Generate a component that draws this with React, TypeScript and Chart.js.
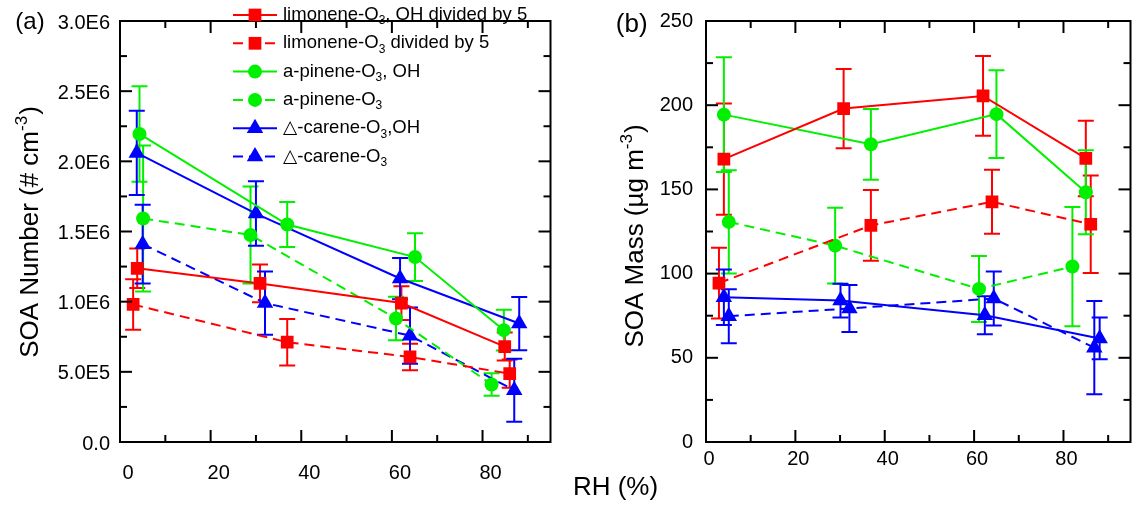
import React, { useEffect, useRef } from 'react';
import { Chart, registerables } from 'chart.js';

Chart.register(...registerables);

const FONT = '"Liberation Sans", Arial, "DejaVu Sans", sans-serif';
const RED = '#FF0000';
const GREEN = '#00F000';
const BLUE = '#0000FF';

// ---------- Panel (a): SOA number ----------
const rhLimOH_A = [3.8, 30.9, 62.1, 84.9];
const numLimOH_A = [1.238e6, 1.13e6, 0.99e6, 0.68e6];
const errLimOH_A = [0.14e6, 0.135e6, 0.12e6, 0.1e6];

const rhLimO3_A = [2.9, 36.9, 64.0, 86.0];
const numLimO3_A = [0.98e6, 0.711e6, 0.606e6, 0.487e6];
const errLimO3_A = [0.18e6, 0.165e6, 0.095e6, 0.1e6];

const rhPinOH_A = [4.3, 36.9, 65.1, 84.7];
const numPinOH_A = [2.195e6, 1.55e6, 1.318e6, 0.797e6];
const errPinOH_A = [0.34e6, 0.16e6, 0.17e6, 0.145e6];

const rhPinO3_A = [5.1, 28.8, 60.9, 82.0];
const numPinO3_A = [1.593e6, 1.475e6, 0.88e6, 0.41e6];
const errPinO3_A = [0.52e6, 0.345e6, 0.155e6, 0.08e6];

const rhCarOH_A = [3.7, 30.0, 61.8, 88.1];
const numCarOH_A = [2.06e6, 1.628e6, 1.165e6, 0.844e6];
const errCarOH_A = [0.3e6, 0.23e6, 0.147e6, 0.19e6];

const rhCarO3_A = [5.0, 32.0, 64.0, 87.0];
const numCarO3_A = [1.41e6, 0.99e6, 0.758e6, 0.369e6];
const errCarO3_A = [0.28e6, 0.225e6, 0.2e6, 0.225e6];

// ---------- Panel (b): SOA mass ----------
const rhLimOH_B = [4.0, 30.8, 62.0, 85.0];
const massLimOH_B = [168, 198, 205.5, 168.4];
const errLimOH_B = [33, 23.5, 23.7, 22.4];

const rhLimO3_B = [2.9, 36.9, 64.0, 86.1];
const massLimO3_B = [94.4, 128.6, 142.6, 129.3];
const errLimO3_B = [21, 21, 19, 29];

const rhPinOH_B = [4.0, 36.9, 65.0, 85.0];
const massPinOH_B = [194.4, 176.8, 194.7, 148.3];
const errPinOH_B = [34, 21, 26, 25];

const rhPinO3_B = [5.1, 28.9, 61.1, 82.0];
const massPinO3_B = [130.7, 116.6, 90.9, 104.2];
const errPinO3_B = [30.7, 22.5, 19.6, 35.4];

const rhCarOH_B = [4.0, 30.1, 62.4, 88.1];
const massCarOH_B = [86, 84, 75.3, 61.5];
const errCarOH_B = [16.5, 10, 11.3, 12.4];

const rhCarO3_B = [5.1, 32.1, 64.4, 86.9];
const massCarO3_B = [74.7, 79.3, 85.2, 56];
const errCarO3_B = [16, 14, 16, 27.7];

// ---------- Ticks ----------
const xTickValues = [0, 20, 40, 60, 80];
const xTickLabels = ['0', '20', '40', '60', '80'];
const xMinorValues = [10, 30, 50, 70, 90];

const yTickValuesA = [0, 5e5, 1e6, 1.5e6, 2e6, 2.5e6, 3e6];
const yTickLabelsA = ['0.0', '5.0E5', '1.0E6', '1.5E6', '2.0E6', '2.5E6', '3.0E6'];
const yMinorA = [2.5e5, 7.5e5, 1.25e6, 1.75e6, 2.25e6, 2.75e6];

const yTickValuesB = [0, 50, 100, 150, 200, 250];
const yTickLabelsB = ['0', '50', '100', '150', '200', '250'];
const yMinorB = [25, 75, 125, 175, 225];

// ---------- Series styling / legend ----------
const legendParts = [
  ['limonene-O', '3', ', OH divided by 5'],
  ['limonene-O', '3', ' divided by 5'],
  ['a-pinene-O', '3', ', OH'],
  ['a-pinene-O', '3', ''],
  ['\u25B3-carene-O', '3', ',OH'],
  ['\u25B3-carene-O', '3', ''],
];
const seriesColors = [RED, RED, GREEN, GREEN, BLUE, BLUE];
const seriesDashed = [false, true, false, true, false, true];
const seriesMarkers = ['rect', 'rect', 'circle', 'circle', 'triangle', 'triangle'];
const markerRadius = [9, 9, 7, 7, 9.5, 9.5];

const DASH = [10, 6];
const CAP = 8;
const MAJ = 12;
const MIN = 7;

function buildDatasets(xs: number[][], ys: number[][], es: number[][]) {
  return xs.map((xArr, s) => ({
    label: legendParts[s].join(''),
    data: xArr.map((x, i) => ({ x, y: ys[s][i] })),
    errors: es[s],
    showLine: true,
    borderColor: seriesColors[s],
    backgroundColor: seriesColors[s],
    borderWidth: 2,
    borderDash: seriesDashed[s] ? DASH : [],
    pointStyle: seriesMarkers[s],
    pointRadius: markerRadius[s],
    pointHoverRadius: markerRadius[s],
    pointBackgroundColor: seriesColors[s],
    pointBorderColor: seriesColors[s],
    pointBorderWidth: 0,
    tension: 0,
  }));
}

function drawMarker(ctx: CanvasRenderingContext2D, style: string, x: number, y: number, r: number) {
  ctx.beginPath();
  if (style === 'rect') {
    const s = Math.SQRT1_2 * r;
    ctx.rect(x - s, y - s, 2 * s, 2 * s);
  } else if (style === 'circle') {
    ctx.arc(x, y, r, 0, Math.PI * 2);
  } else {
    ctx.moveTo(x, y - r);
    ctx.lineTo(x + 0.866 * r, y + 0.5 * r);
    ctx.lineTo(x - 0.866 * r, y + 0.5 * r);
    ctx.closePath();
  }
  ctx.fill();
}

const errorBarPlugin = {
  id: 'errorBars',
  beforeDatasetsDraw(chart: any) {
    const ctx = chart.ctx;
    const xs = chart.scales.x;
    const ys = chart.scales.y;
    const a = chart.chartArea;
    ctx.save();
    ctx.beginPath();
    ctx.rect(a.left, a.top, a.right - a.left, a.bottom - a.top);
    ctx.clip();
    chart.data.datasets.forEach((ds: any) => {
      ctx.strokeStyle = ds.borderColor;
      ctx.lineWidth = 2;
      ctx.setLineDash([]);
      ds.data.forEach((p: any, i: number) => {
        const e = ds.errors[i];
        const px = xs.getPixelForValue(p.x);
        const y1 = ys.getPixelForValue(p.y + e);
        const y2 = ys.getPixelForValue(p.y - e);
        ctx.beginPath();
        ctx.moveTo(px, y1);
        ctx.lineTo(px, y2);
        ctx.moveTo(px - CAP, y1);
        ctx.lineTo(px + CAP, y1);
        ctx.moveTo(px - CAP, y2);
        ctx.lineTo(px + CAP, y2);
        ctx.stroke();
      });
    });
    ctx.restore();
  },
};

const framePlugin = {
  id: 'frame',
  afterDraw(chart: any, _args: any, o: any) {
    const ctx: CanvasRenderingContext2D = chart.ctx;
    const a = chart.chartArea;
    const xs = chart.scales.x;
    const ys = chart.scales.y;
    ctx.save();
    ctx.strokeStyle = '#000';
    ctx.fillStyle = '#000';
    ctx.lineWidth = 2;
    ctx.setLineDash([]);
    ctx.strokeRect(a.left, a.top, a.right - a.left, a.bottom - a.top);
    const seg = (x1: number, y1: number, x2: number, y2: number) => {
      ctx.beginPath();
      ctx.moveTo(x1, y1);
      ctx.lineTo(x2, y2);
      ctx.stroke();
    };
    xTickValues.forEach((v) => {
      const px = xs.getPixelForValue(v);
      seg(px, a.bottom, px, a.bottom - MAJ);
      seg(px, a.top, px, a.top + MAJ);
    });
    xMinorValues.forEach((v) => {
      const px = xs.getPixelForValue(v);
      seg(px, a.bottom, px, a.bottom - MIN);
      seg(px, a.top, px, a.top + MIN);
    });
    o.yMajor.forEach((v: number) => {
      const py = ys.getPixelForValue(v);
      seg(a.left, py, a.left + MAJ, py);
      seg(a.right, py, a.right - MAJ, py);
    });
    o.yMinor.forEach((v: number) => {
      const py = ys.getPixelForValue(v);
      seg(a.left, py, a.left + MIN, py);
      seg(a.right, py, a.right - MIN, py);
    });

    // tick labels
    ctx.font = `20px ${FONT}`;
    ctx.textBaseline = 'middle';
    ctx.textAlign = 'center';
    xTickValues.forEach((v, i) => {
      ctx.fillText(xTickLabels[i], xs.getPixelForValue(v) + o.xLabelDx, o.xLabelY);
    });
    ctx.textAlign = 'right';
    o.yMajor.forEach((v: number, i: number) => {
      ctx.fillText(o.yLabels[i], o.yLabelRight, ys.getPixelForValue(v) + o.yLabelDy);
    });

    // y-axis title (rotated, with superscript)
    const [t1, sup, t2] = o.title;
    ctx.font = `26px ${FONT}`;
    const w1 = ctx.measureText(t1).width;
    const w3 = ctx.measureText(t2).width;
    ctx.font = `17px ${FONT}`;
    const w2 = ctx.measureText(sup).width;
    const total = w1 + w2 + w3 + 1;
    ctx.save();
    ctx.translate(o.titleX, o.titleY);
    ctx.rotate(-Math.PI / 2);
    ctx.textAlign = 'left';
    ctx.textBaseline = 'alphabetic';
    let cx = -total / 2;
    ctx.font = `26px ${FONT}`;
    ctx.fillText(t1, cx, 0);
    cx += w1;
    ctx.font = `17px ${FONT}`;
    ctx.fillText(sup, cx, -11);
    cx += w2 + 1;
    ctx.font = `26px ${FONT}`;
    ctx.fillText(t2, cx, 0);
    ctx.restore();

    // panel label
    ctx.font = `${o.panelSize}px ${FONT}`;
    ctx.textAlign = 'center';
    ctx.textBaseline = 'middle';
    ctx.fillText(o.panel, o.panelX, o.panelY);

    if (o.rh) {
      ctx.font = `26px ${FONT}`;
      ctx.fillText(o.rh, o.rhX, o.rhY);
    }

    if (o.legend) {
      legendParts.forEach((parts, s) => {
        const y = 15 + s * 28.3;
        ctx.strokeStyle = seriesColors[s];
        ctx.fillStyle = seriesColors[s];
        ctx.lineWidth = 2;
        ctx.setLineDash(seriesDashed[s] ? DASH : []);
        seg(233, y, 277, y);
        ctx.setLineDash([]);
        drawMarker(ctx, seriesMarkers[s], 255, y, markerRadius[s]);
        ctx.fillStyle = '#000';
        ctx.textAlign = 'left';
        ctx.textBaseline = 'middle';
        let lx = 283;
        ctx.font = `18.5px ${FONT}`;
        ctx.fillText(parts[0], lx, y);
        lx += ctx.measureText(parts[0]).width;
        ctx.font = `12px ${FONT}`;
        ctx.fillText(parts[1], lx, y + 6);
        lx += ctx.measureText(parts[1]).width;
        ctx.font = `18.5px ${FONT}`;
        ctx.fillText(parts[2], lx, y);
      });
    }
    ctx.restore();
  },
};

function makeConfig(datasets: any[], yMax: number, padding: any, frame: any) {
  return {
    type: 'scatter',
    data: { datasets },
    options: {
      animation: false,
      responsive: false,
      devicePixelRatio: 1,
      events: [],
      layout: { padding },
      scales: {
        x: { type: 'linear', min: 0, max: 95, display: false },
        y: { type: 'linear', min: 0, max: yMax, display: false },
      },
      plugins: {
        legend: { display: false },
        tooltip: { enabled: false },
        frame,
      },
    },
    plugins: [errorBarPlugin, framePlugin],
  };
}

function ChartCanvas({ left, width, config }: { left: number; width: number; config: () => any }) {
  const ref = useRef<HTMLCanvasElement | null>(null);
  useEffect(() => {
    const chart = new Chart(ref.current as HTMLCanvasElement, config());
    return () => chart.destroy();
  }, []);
  return (
    <canvas
      ref={ref}
      width={width}
      height={508}
      style={{ position: 'absolute', left, top: 0, width, height: 508 }}
    />
  );
}

const configA = () =>
  makeConfig(
    buildDatasets(
      [rhLimOH_A, rhLimO3_A, rhPinOH_A, rhPinO3_A, rhCarOH_A, rhCarO3_A],
      [numLimOH_A, numLimO3_A, numPinOH_A, numPinO3_A, numCarOH_A, numCarO3_A],
      [errLimOH_A, errLimO3_A, errPinOH_A, errPinO3_A, errCarOH_A, errCarO3_A]
    ),
    3e6,
    { left: 120, right: 9, top: 21, bottom: 66 },
    {
      yMajor: yTickValuesA,
      yLabels: yTickLabelsA,
      yMinor: yMinorA,
      yLabelRight: 110,
      yLabelDy: 2,
      xLabelY: 473,
      xLabelDx: 8,
      title: ['SOA Number (# cm', '-3', ')'],
      titleX: 37.5,
      titleY: 232,
      panel: '(a)',
      panelSize: 24,
      panelX: 30,
      panelY: 22.5,
      legend: true,
    }
  );

const configB = () =>
  makeConfig(
    buildDatasets(
      [rhLimOH_B, rhLimO3_B, rhPinOH_B, rhPinO3_B, rhCarOH_B, rhCarO3_B],
      [massLimOH_B, massLimO3_B, massPinOH_B, massPinO3_B, massCarOH_B, massCarO3_B],
      [errLimOH_B, errLimO3_B, errPinOH_B, errPinO3_B, errCarOH_B, errCarO3_B]
    ),
    250,
    { left: 146, right: 3, top: 21, bottom: 66 },
    {
      yMajor: yTickValuesB,
      yLabels: yTickLabelsB,
      yMinor: yMinorB,
      yLabelRight: 133,
      yLabelDy: 0,
      xLabelY: 459,
      xLabelDx: 3,
      title: ['SOA Mass (\u00B5g m', '-3', ')'],
      titleX: 82.5,
      titleY: 236,
      panel: '(b)',
      panelSize: 26,
      panelX: 71.7,
      panelY: 25,
      rh: 'RH (%)',
      rhX: 55.5,
      rhY: 488,
      legend: false,
    }
  );

export default function App() {
  return (
    <div
      style={{
        position: 'fixed',
        left: 0,
        top: 0,
        width: 1132,
        height: 508,
        overflow: 'hidden',
        background: '#fff',
      }}
    >
      <ChartCanvas left={0} width={560} config={configA} />
      <ChartCanvas left={560} width={580} config={configB} />
    </div>
  );
}
